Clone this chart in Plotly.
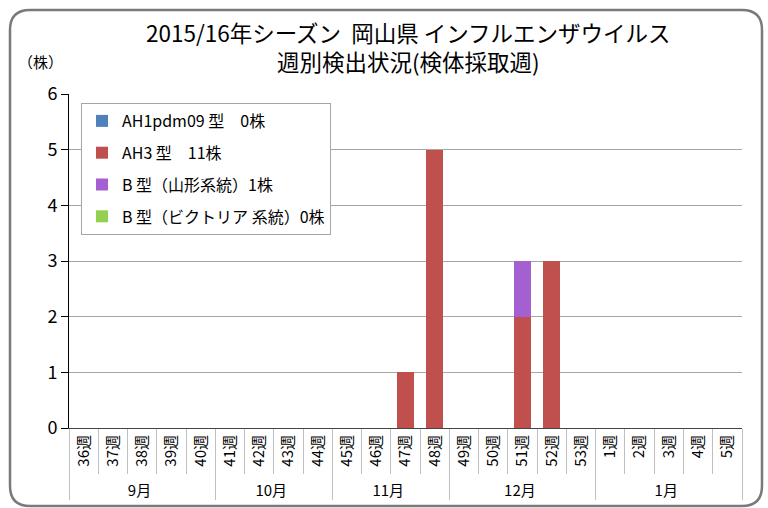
import plotly.graph_objects as go

months = ["9月"] * 5 + ["10月"] * 4 + ["11月"] * 4 + ["12月"] * 5 + ["1月"] * 5
weeks = [f"{w}週" for w in list(range(36, 54)) + list(range(1, 6))]

ah1 = [0] * 23
ah3 = [0, 0, 0, 0, 0, 0, 0, 0, 0, 0, 0, 1, 5, 0, 0, 2, 3, 0, 0, 0, 0, 0, 0]
b_yam = [0, 0, 0, 0, 0, 0, 0, 0, 0, 0, 0, 0, 0, 0, 0, 1, 0, 0, 0, 0, 0, 0, 0]
b_vic = [0] * 23

series = [
    ("AH1pdm09 型　0株", ah1, "#4F81BD"),
    ("AH3 型　11株", ah3, "#C0504D"),
    ("B 型（山形系統）1株", b_yam, "#A45FD1"),
    ("B 型（ビクトリア 系統）0株", b_vic, "#92D050"),
]

FONT = "Noto Sans CJK JP"
L, R, T, B = 69, 26, 94, 80
W, H = 768, 508
pw, ph = W - L - R, H - T - B

def px(x):
    return (x - L) / pw

def py(y):
    return (H - B - y) / ph

fig = go.Figure()
for i, (name, vals, col) in enumerate(series):
    fig.add_trace(go.Bar(x=[months, weeks], y=vals, name=name, marker_color=col,
                         marker_line_width=0, legendgroup=f"g{i}"))

# rounded frame
x0, x1, y0, y1, r = 10, 762, 10, 506, 20
path = (f"M {px(x0)},{py(y0 + r)} Q {px(x0)},{py(y0)} {px(x0 + r)},{py(y0)} "
        f"L {px(x1 - r)},{py(y0)} Q {px(x1)},{py(y0)} {px(x1)},{py(y0 + r)} "
        f"L {px(x1)},{py(y1 - r)} Q {px(x1)},{py(y1)} {px(x1 - r)},{py(y1)} "
        f"L {px(x0 + r)},{py(y1)} Q {px(x0)},{py(y1)} {px(x0)},{py(y1 - r)} Z")
fig.add_shape(type="path", path=path, xref="paper", yref="paper",
              line=dict(color="#7A7A7A", width=2.5), layer="below")

fig.add_annotation(text="2015/16年シーズン  岡山県 インフルエンザウイルス<br>週別検出状況(検体採取週)",
                   xref="paper", yref="paper", x=px(408), y=py(47), xanchor="center",
                   yanchor="middle", showarrow=False,
                   font=dict(family=FONT, size=22.5, color="#000"))
fig.add_annotation(text="（株）", xref="paper", yref="paper", x=px(40), y=py(62),
                   xanchor="center", yanchor="middle", showarrow=False,
                   font=dict(family=FONT, size=15, color="#000"))

fig.update_layout(
    width=W, height=H, margin=dict(l=L, r=R, t=T, b=B, autoexpand=False),
    barmode="stack", bargap=0.42,
    paper_bgcolor="white", plot_bgcolor="white",
    font=dict(family=FONT, color="#000"),
    showlegend=True,
    legend=dict(x=px(81), y=py(103), xanchor="left", yanchor="top",
                bgcolor="white", bordercolor="#A6A6A6", borderwidth=1,
                traceorder="grouped", font=dict(size=16, family=FONT),
                tracegroupgap=8, itemsizing="constant"),
    yaxis=dict(range=[0, 6], dtick=1, showgrid=True, gridcolor="#A6A6A6",
               showline=True, linecolor="#000", linewidth=1, ticks="outside",
               ticklen=7, tickcolor="#000", tickfont=dict(size=18, family=FONT),
               zeroline=False, fixedrange=True, automargin=False),
    xaxis=dict(type="multicategory", showline=True, linecolor="#444",
               tickangle=-90, tickfont=dict(size=15, family=FONT),
               showdividers=True, dividercolor="#BFBFBF", dividerwidth=1,
               ticks="outside", ticklen=45, tickcolor="#BFBFBF",
               fixedrange=True, automargin=False),
)

fig.write_html("out.html", config={"displayModeBar": False},
               post_script="document.body.style.margin='0';")
